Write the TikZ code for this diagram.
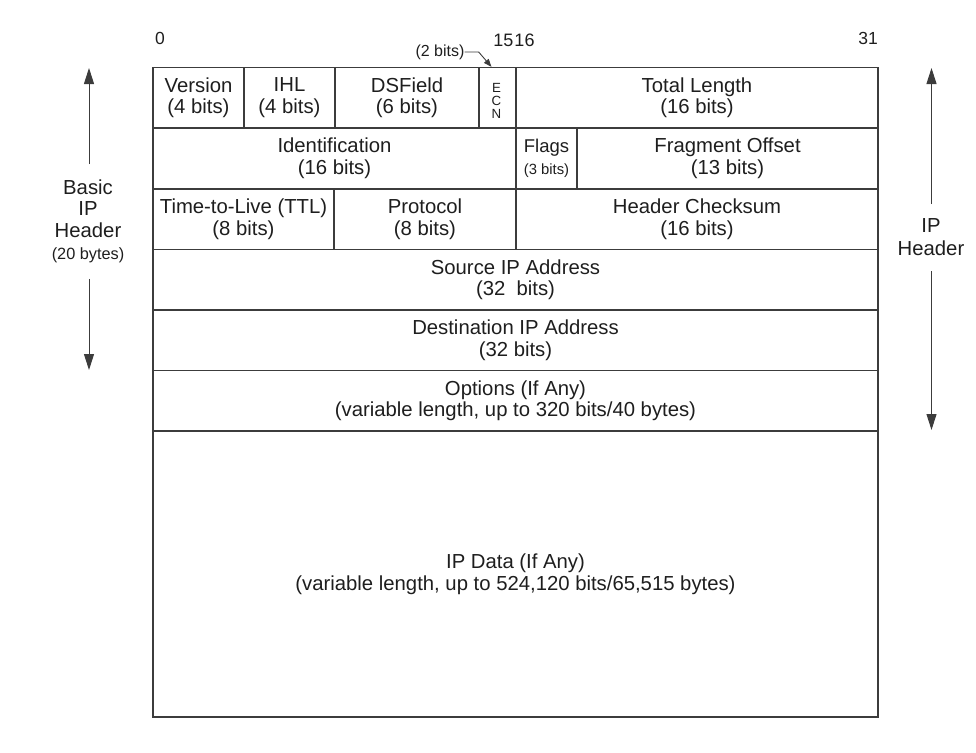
\documentclass[tikz,border=0pt]{standalone}
\usepackage{fontspec}
\setmainfont{Liberation Sans}
\usetikzlibrary{arrows.meta}
\definecolor{ln}{HTML}{3C3C3C}
\definecolor{tx}{HTML}{1E1E1E}
\tikzset{
  cellbox/.style={draw=ln, line width=1.3pt, inner sep=0pt, align=center, text=tx,
    font=\fontsize{20.3}{21.6}\selectfont},
  sidetext/.style={inner sep=0pt, align=center, text=tx, font=\fontsize{20.3}{21.7}\selectfont},
  bitnum/.style={inner sep=0pt, text=tx, font=\fontsize{17.5}{19}\selectfont},
  bigarrow/.style={draw=ln, line width=1pt, -{Triangle[length=16pt,width=10pt]}},
  smallarrow/.style={draw=ln, line width=0.9pt, -{Triangle[length=8pt,width=6pt]}},
}
\newcommand{\fieldcell}[6]{%
  \node[cellbox, minimum width={#4-#2}, minimum height={#5-#3}] (#1)
    at ({(#2+#4)/2},{(#3+#5)/2}) {#6};}
\begin{document}
\begin{tikzpicture}[x=1pt,y=-1pt]
\path[use as bounding box] (0,0) rectangle (976,752);

% bit numbers
\node[bitnum] (b0) at (160,38) {0};
\node[bitnum, font=\fontsize{18}{19}\selectfont] (b1516) at (514,40) {15\kern1pt16};
\node[bitnum] (b31) at (868,38) {31};

% row 1
\fieldcell{version}{153}{67.5}{244}{128}{Version\\(4 bits)}
\fieldcell{ihl}{244}{67.5}{335}{128}{IHL\\(4 bits)}
\fieldcell{dsfield}{335}{67.5}{479}{128}{DSField\\(6 bits)}
\fieldcell{ecn}{479}{67.5}{516}{128}{}
\fieldcell{totlen}{516}{67.5}{878}{128}{Total Length\\(16 bits)}
\node[inner sep=0pt, align=center, text=tx, font=\fontsize{13.3}{12.6}\selectfont] (ecntext) at (496.5,101) {E\\C\\N};

% row 2
\fieldcell{ident}{153}{128}{516}{189}{Identification\\(16 bits)}
\fieldcell{flags}{516}{128}{577}{189}{{\fontsize{18.5}{20}\selectfont Flags}\\{\fontsize{14.8}{17}\selectfont (3 bits)}}
\fieldcell{fragoff}{577}{128}{878}{189}{Fragment Offset\\(13 bits)}

% row 3
\fieldcell{ttl}{153}{189}{334}{249.5}{Time-to-Live (TTL)\\(8 bits)}
\fieldcell{proto}{334}{189}{516}{249.5}{Protocol\\(8 bits)}
\fieldcell{cksum}{516}{189}{878}{249.5}{Header Checksum\\(16 bits)}

% rows 4-7
\fieldcell{src}{153}{249.5}{878}{310}{Source IP Address\\(32~ bits)}
\fieldcell{dst}{153}{310}{878}{370.5}{Destination IP Address\\(32 bits)}
\fieldcell{opts}{153}{370.5}{878}{431}{Options (If Any)\\(variable length, up to 320 bits/40 bytes)}
\fieldcell{data}{153}{431}{878}{717}{IP Data (If Any)\\(variable length, up to 524,120 bits/65,515 bytes)}

% (2 bits) label for ECN
\node[inner sep=0pt, text=tx, font=\fontsize{16}{18}\selectfont] (twobits) at (440,52) {(2 bits)};
\draw[smallarrow] (twobits.east) -- ++(14,0) -- ([xshift=-6pt]ecn.north);

% left: basic IP header
\node[sidetext] (basic) at (88,221) {Basic\\IP\\Header\\{\fontsize{16.3}{18}\selectfont (20 bytes)}};
\coordinate (ltop) at (89,68);
\coordinate (lbot) at (89,370);
\draw[bigarrow] ([yshift=15pt]basic.north -| ltop) -- (ltop);
\draw[bigarrow] ([yshift=-16pt]basic.south -| lbot) -- (lbot);

% right: IP header
\node[sidetext, font=\fontsize{20.3}{23.3}\selectfont] (iphdr) at (931,237) {IP\\Header};
\coordinate (rtop) at (931.5,68);
\coordinate (rbot) at (931.5,430);
\draw[bigarrow] ([yshift=14pt]iphdr.north -| rtop) -- (rtop);
\draw[bigarrow] ([yshift=-15.5pt]iphdr.south -| rbot) -- (rbot);
\end{tikzpicture}
\end{document}
